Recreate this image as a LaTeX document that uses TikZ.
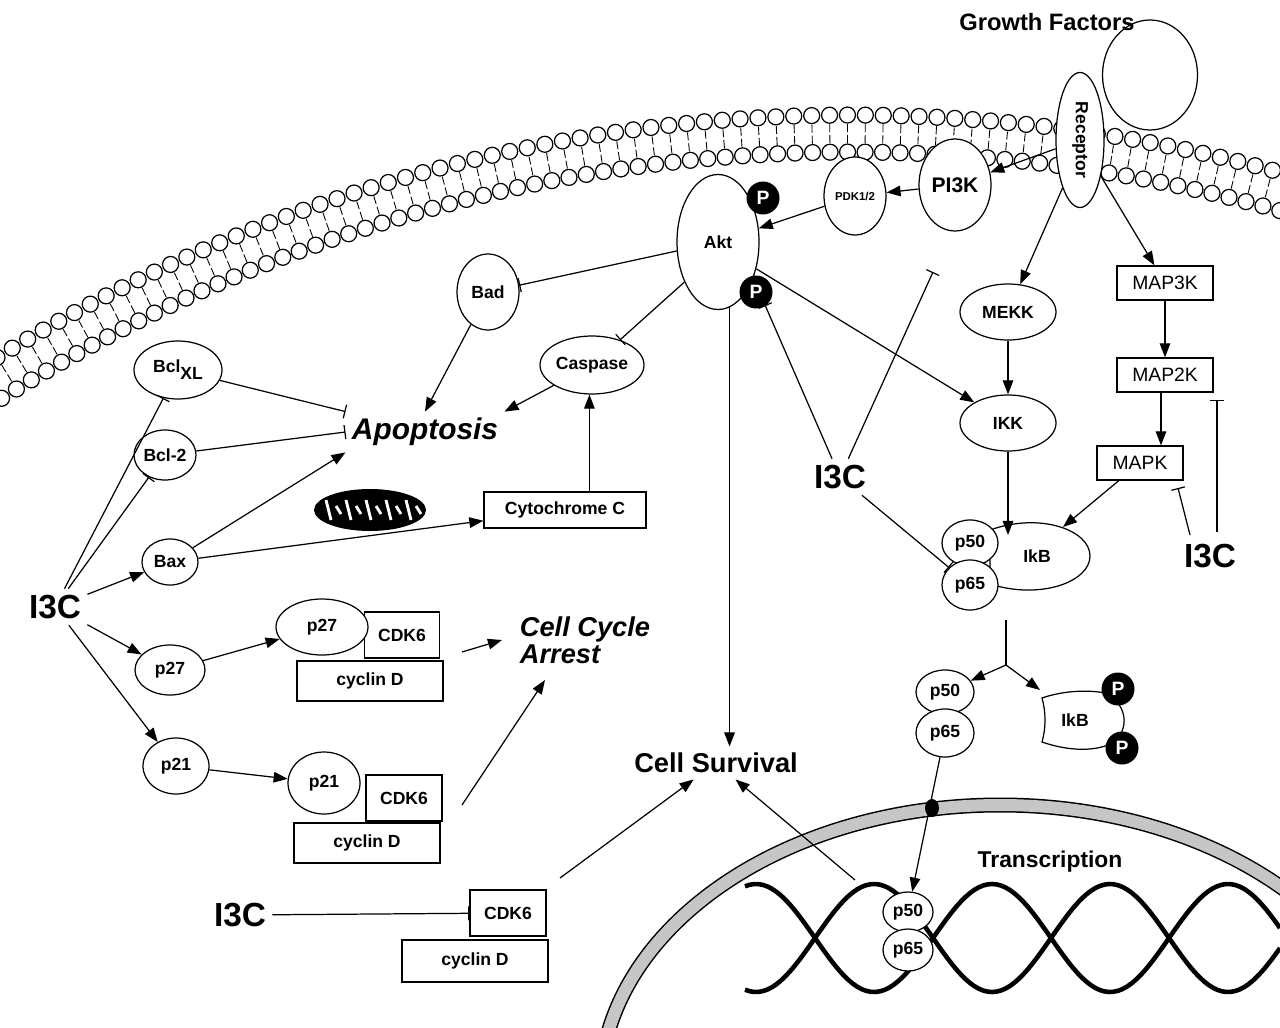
\documentclass[tikz,border=0pt]{standalone}
\usepackage{fontspec}
\setmainfont{Liberation Sans}
\usetikzlibrary{shapes.geometric,arrows.meta,calc}
\newcommand{\fsz}[1]{\fontsize{#1}{#1}\selectfont}
\tikzset{
  e/.style 2 args={ellipse,draw,fill=white,minimum width=#1*0.02cm,minimum height=#2*0.02cm,inner sep=0pt,font=\fsz{10}\bfseries},
  box/.style 2 args={rectangle,draw,fill=white,minimum width=#1*0.02cm,minimum height=#2*0.02cm,inner sep=0pt,font=\fsz{10}\bfseries},
  pho/.style={circle,fill=black,minimum size=0.66cm,inner sep=0pt,text=white,font=\fsz{11}\bfseries},
  act/.style={-{Triangle[length=8pt,width=6pt]}},
  inh/.style={-{Bar[width=8pt]}},
  big/.style={font=\fsz{19}\bfseries},
}
\begin{document}
\begin{tikzpicture}[x=0.02cm,y=-0.02cm,line width=0.7pt]
\useasboundingbox (0,0) rectangle (1280,1027);
\begin{scope}
\clip (0,0) rectangle (1280,1027);
% membrane
\foreach \a in {70,70.63,...,128}{
  \draw[line width=0.5pt] ($(852,1744)+(-\a:1620)$) -- ($(852,1744)+(-\a:1612)$);
  \draw[line width=0.5pt] ($(852,1744)+(-\a:1609)$) -- ($(852,1744)+(-\a:1601)$);
  \draw[fill=white] ($(852,1744)+(-\a:1629)$) circle (8);
  \draw[fill=white] ($(852,1744)+(-\a:1592)$) circle (8);
}
% nucleus
\draw[line width=0.3cm,black] (1000,1090) ellipse (400 and 285);
\draw[line width=0.24cm,gray!45] (1000,1090) ellipse (400 and 285);
% DNA
\draw[line width=2.6pt] plot[domain=745:1280,samples=120] (\x,{938+54*sin(1.5254*(\x-815))});
\draw[line width=2.6pt] plot[domain=745:1280,samples=120] (\x,{938-54*sin(1.5254*(\x-815))});
\end{scope}
\node[fill=black,ellipse,minimum width=0.28cm,minimum height=0.36cm,inner sep=0pt] (pore) at (932,808) {};

% receptor and growth factor
\node[e={95}{110}] (gf) at (1150,75) {};
\node[font=\fsz{13.5}\bfseries] (gft) at (1047,22) {Growth Factors};
\node[e={48}{135}] (rec) at (1080,140) {};
\node[rotate=-90,font=\fsz{10}\bfseries] at (rec) {Receptor};
\node[e={72}{92},font=\fsz{12}\bfseries] (pik) at (955,185) {PI3K};
\node[e={62}{78},font=\fsz{6.5}\bfseries] (pdk) at (855,196) {PDK1/2};
\node[e={82}{135}] (akt) at (718,242) {Akt};
\node[pho] (pa) at (763,198) {P};
\node[pho] (pb) at (756,292) {P};
\node[e={62}{76}] (bad) at (488,292) {Bad};
\node[e={104}{58}] (casp) at (592,365) {Caspase};
\node[e={88}{58}] (bclxl) at (178,370) {Bcl\raisebox{-4pt}{XL}};
\node[e={62}{50}] (bcl2) at (165,455) {Bcl-2};
\node[e={56}{46}] (bax) at (170,562) {Bax};
\node[font=\fsz{17}\bfseries\itshape] (apop) at (425,432) {Apoptosis};
\node[box={162}{36}] (cytc) at (565,510) {Cytochrome C};
\node[big] (iA) at (55,607) {I3C};
\draw[act] (bax) -- (cytc);
\node[ellipse,fill=black,minimum width=2.24cm,minimum height=0.84cm] (mito) at (370,510) {};
\foreach \i in {0,...,9}{
  \draw[white,line width=1.6pt] (326+\i*10,{500+mod(\i,2)*6}) -- (326+\i*10+5,{520-mod(\i,2)*6});
}

% cell cycle
\node[e={70}{50}] (p27) at (170,670) {p27};
\node[box={146}{40}] (cycA) at (370,681) {cyclin D};
\node[box={75}{46}] (cdkA) at (402,635) {CDK6};
\node[e={92}{56}] (p27b) at (322,627) {p27};
\node[align=left,font=\fsz{15.5}\bfseries\itshape] (cca) at (585,640) {Cell Cycle\\Arrest};
\node[e={66}{56}] (p21) at (176,766) {p21};
\node[box={146}{40}] (cycB) at (367,843) {cyclin D};
\node[box={76}{46}] (cdkB) at (404,798) {CDK6};
\node[e={72}{62}] (p21b) at (324,783) {p21};
\node[font=\fsz{15.5}\bfseries] (surv) at (716,763) {Cell Survival};
\node[big] (iB) at (240,915) {I3C};
\node[box={76}{46}] (cdkC) at (508,913) {CDK6};
\node[box={146}{42}] (cycC) at (475,961) {cyclin D};

% MAP kinases and NF-kB
\node[e={96}{56}] (mekk) at (1008,312) {MEKK};
\node[e={96}{56}] (ikk) at (1008,423) {IKK};
\node[box={96}{34},font=\fsz{11}] (m3) at (1165,283) {MAP3K};
\node[box={96}{34},font=\fsz{11}] (m2) at (1165,375) {MAP2K};
\node[box={86}{34},font=\fsz{11}] (mk) at (1140,463) {MAPK};
\node[big] (iC) at (840,477) {I3C};
\node[big] (iD) at (1210,556) {I3C};
\draw[fill=white] (990,530) .. controls (1040,512) and (1090,530) .. (1090,556) .. controls (1090,582) and (1040,600) .. (990,584) -- cycle;
\node[font=\fsz{10}\bfseries] (ikb) at (1037,556) {IkB};
\node[e={56}{46}] (p50a) at (970,543) {p50};
\node[e={56}{50}] (p65a) at (970,585) {p65};
\draw[fill=white] (1042,698) .. controls (1065,690) and (1090,690) .. (1105,693) .. controls (1130,705) and (1130,735) .. (1108,745) .. controls (1090,752) and (1065,750) .. (1042,742) .. controls (1046,728) and (1046,712) .. cycle;
\node[font=\fsz{10}\bfseries] (ikbf) at (1075,720) {IkB};
\node[pho] (pc) at (1118,689) {P};
\node[pho] (pd) at (1122,748) {P};
\node[e={58}{44}] (p50b) at (945,692) {p50};
\node[e={58}{48}] (p65b) at (945,733) {p65};
\node[e={50}{40}] (p50c) at (908,912) {p50};
\node[e={50}{42}] (p65c) at (908,950) {p65};
\node[font=\fsz{13}\bfseries] (trs) at (1050,862) {Transcription};

\coordinate (ikbtop) at (1008,535);
\coordinate (ikbmap) at (1063,527);
\coordinate (br0) at (1006,620);
\coordinate (br) at (1006,665);
\coordinate (pikb) at (933,272);
\coordinate (aktb) at (765,305);
\coordinate (mkb) at (1178,488);
\coordinate (m2b) at (1217,400);
\coordinate (iDa) at (1190,535);
\coordinate (iDb) at (1217,532);
\coordinate (ccA) at (462,652);
\coordinate (ccB) at (462,805);
\coordinate (ccB2) at (545,680);
\coordinate (ccA2) at (502,640);
\coordinate (cdkCs) at (560,878);
\coordinate (nuc) at (855,880);

% connectors
\draw[act] (rec) -- (pik);
\draw[act] (pik) -- (pdk);
\draw[act] (pdk) -- (akt);
\draw[act] (rec.-110) -- (mekk);
\draw[act] (rec.-60) -- (m3);
\draw[act] (m3) -- (m2);
\draw[act] (m2.south -| mk.40) -- (mk.40);
\draw[act] (mk) -- (ikbmap);
\draw[act] (mekk) -- (ikk);
\draw[act] (ikk) -- (ikbtop);
\draw[act] (akt.-35) -- (ikk);
\draw[act] (akt.-80) -- (surv.north -| akt.-80);
\draw[inh] (akt) -- (bad);
\draw[inh] (akt.-130) -- (casp);
\draw[act] (bad) -- (apop.north);
\draw[act] (casp) -- (apop.north east);
\draw[act] (cytc.north -| casp.-95) -- (casp.-95);
\draw[inh] (bclxl) -- (apop.north west);
\draw[inh] (bcl2) -- (apop.west);
\draw[act] (bax) -- (apop.south west);
\draw[inh] (iA) -- (bclxl);
\draw[inh] (iA) -- (bcl2);
\draw[act] (iA) -- (bax);
\draw[act] (iA) -- (p27);
\draw[act] (iA) -- (p21);
\draw[act] (p27) -- (p27b);
\draw[act] (p21) -- (p21b);
\draw[act] (ccA) -- (ccA2);
\draw[act] (ccB) -- (ccB2);
\draw[inh] (iB) -- (cdkC);
\draw[act] (cdkCs) -- (surv);
\draw[act] (nuc) -- (surv);
\draw[inh] (iC) -- (aktb);
\draw[inh] (iC) -- (pikb);
\draw[inh] (iC) -- (p65a);
\draw[inh] (iDa) -- (mkb);
\draw[inh] (iDb) -- (m2b);
\draw (br0) -- (br);
\draw[act] (br) -- (p50b);
\draw[act] (br) -- (1040,690);
\draw[act] (p65b) -- (p50c);
\end{tikzpicture}
\end{document}
